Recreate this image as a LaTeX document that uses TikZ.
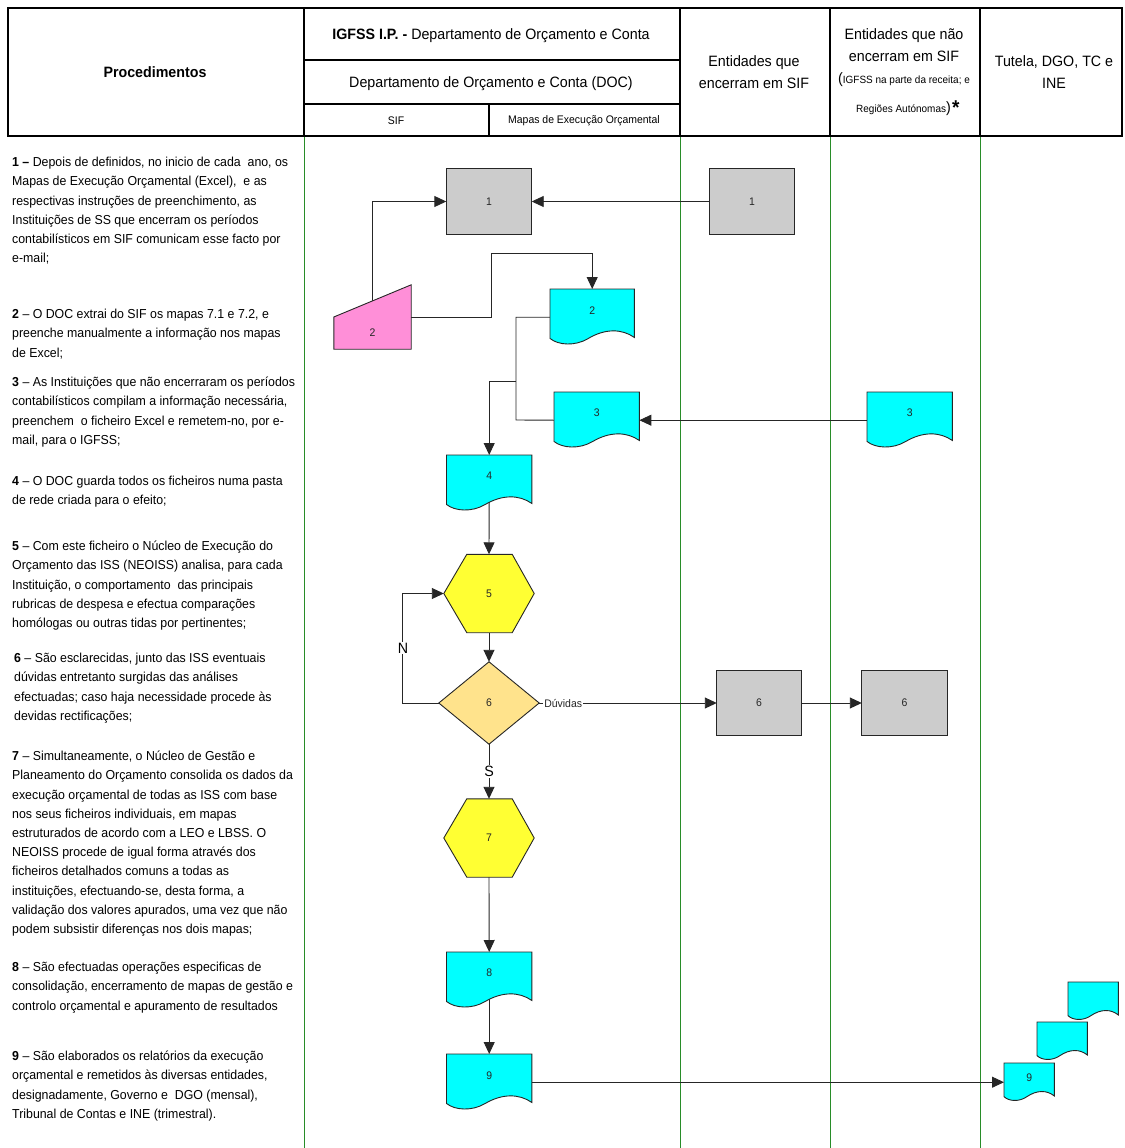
\documentclass[tikz,border=0pt]{standalone}
\usepackage{fontspec}
\newfontfamily\af{Liberation Sans}[FakeStretch=0.95]
\usetikzlibrary{arrows.meta,calc}
\definecolor{lanegreen}{RGB}{40,140,40}
\definecolor{boxgray}{RGB}{204,204,204}
\definecolor{doccyan}{RGB}{0,255,255}
\definecolor{manpink}{RGB}{255,143,216}
\definecolor{hexyellow}{RGB}{255,255,51}
\definecolor{decorange}{RGB}{255,227,140}
\pgfdeclarelayer{conn}
\pgfdeclarelayer{shapes}
\pgfsetlayers{conn,shapes,main}
\newcommand\fsHead{\fontsize{15}{22}\selectfont}
\newcommand\fsSmall{\fontsize{11}{13}\selectfont}
\newcommand\fsTiny{\fontsize{10.5}{12}\selectfont}
\newcommand\docshape[2]{%
  \filldraw[shp, fill=#2] let \p1=(#1.north west), \p2=(#1.south east),
    \n1={\x2-\x1}, \n2={\y1-\y2} in
  (\x1,\y1) -- (\x2,\y1) -- (\x2,{\y1-0.86*\n2})
  .. controls ({\x1+0.85*\n1},{\y1-0.70*\n2}) and ({\x1+0.65*\n1},{\y1-0.70*\n2}) .. ({\x1+0.45*\n1},{\y1-0.88*\n2})
  .. controls ({\x1+0.30*\n1},{\y1-1.015*\n2}) and ({\x1+0.10*\n1},{\y1-1.0*\n2}) .. (\x1,{\y1-0.877*\n2}) -- cycle;}
\newcommand\hexshape[2]{%
  \filldraw[shp, fill=#2] let \p1=(#1.north west), \p2=(#1.south east) in
  ({\x1+23pt},\y1) -- ({\x2-22pt},\y1) -- (\x2,{0.5*\y1+0.5*\y2}) -- ({\x2-22pt},\y2)
  -- ({\x1+23pt},\y2) -- (\x1,{0.5*\y1+0.5*\y2}) -- cycle;}
\tikzset{
  lane/.style={draw=lanegreen, line width=0.9pt},
  hline/.style={draw=black, line width=1.1pt},
  conn/.style={draw=black!85, line width=0.9pt},
  arr/.style={conn, -{Triangle[length=12pt,width=11pt]}},
  shp/.style={draw=black!85, line width=0.9pt},
  lbl/.style={font=\af\fsSmall, text=black!85},
  graybox/.style={rectangle, inner sep=0pt, lbl, minimum width=85pt, minimum height=65pt},
  docnode/.style={rectangle, inner sep=0pt, lbl, anchor=north west, minimum width=85pt, minimum height=56pt},
  hexnode/.style={rectangle, inner sep=0pt, lbl, minimum width=90pt, minimum height=78pt},
  lefttext/.style={font=\af\fontsize{13}{19.2}\selectfont, align=left, anchor=north west, inner sep=0pt},
  headtext/.style={font=\af\fsHead, align=center, inner sep=0pt},
  yn/.style={font=\af\fsHead, fill=white, inner sep=1pt},
}
\begin{document}
\begin{tikzpicture}[x=1pt,y=-1pt]
\useasboundingbox (0,0) rectangle (1124,1148);

% ---------- header text ----------
\node[headtext] (hproc) at (155,72) {\textbf{Procedimentos}};
\node[headtext] (higfss) at (491,35.5) {\textbf{IGFSS I.P. -} Departamento de Orçamento e Conta};
\node[headtext] (hdoc) at (491,83.5) {Departamento de Orçamento e Conta (DOC)};
\node[headtext, font=\af\fsSmall] (hsif) at (396,121) {SIF};
\node[headtext, font=\af\fsSmall] (hmapas) at (584,121) {Mapas de Execução Orçamental};
\node[headtext] (henc) at (754,72) {Entidades que\\encerram em SIF};
\node[headtext] (hnenc) at (904,45) {Entidades que não\\encerram em SIF};
\node[headtext, font=\af\fsTiny] (hnenc2) at (904,80) {{\fsHead(}IGFSS na parte da receita; e};
\node[headtext, font=\af\fsTiny, anchor=east] (hnenc3) at (951,109) {Regiões Autónomas{\fsHead)}};
\node[headtext, anchor=west, font=\af\fontsize{20}{20}\selectfont\bfseries, xshift=1pt] (hstar) at (hnenc3.east) {\raisebox{3pt}{*}};
\node[headtext] (htut) at (1054,72) {Tutela, DGO, TC e\\INE};

% ---------- left column text ----------
\node[lefttext] (p1) at (12,153.1) {\strut\textbf{1 –} Depois de definidos, no inicio de cada\ \ ano, os\\
Mapas de Execução Orçamental (Excel),\ \ e as\\
respectivas instruções de preenchimento, as\\
Instituições de SS que encerram os períodos\\
contabilísticos em SIF comunicam esse facto por\\
e-mail;};
\node[lefttext] (p2) at (12,305.1) {\strut\textbf{2} – O DOC extrai do SIF os mapas 7.1 e 7.2, e\\
preenche manualmente a informação nos mapas\\
de Excel;};
\node[lefttext] (p3) at (12,373.1) {\strut\textbf{3} – As Instituições que não encerraram os períodos\\
contabilísticos compilam a informação necessária,\\
preenchem\ \ o ficheiro Excel e remetem-no, por e-\\
mail, para o IGFSS;};
\node[lefttext] (p4) at (12,472.1) {\strut\textbf{4} – O DOC guarda todos os ficheiros numa pasta\\
de rede criada para o efeito;};
\node[lefttext] (p5) at (12,537.1) {\strut\textbf{5} – Com este ficheiro o Núcleo de Execução do\\
Orçamento das ISS (NEOISS) analisa, para cada\\
Instituição, o comportamento\ \ das principais\\
rubricas de despesa e efectua comparações\\
homólogas ou outras tidas por pertinentes;};
\node[lefttext] (p6) at (14,649.1) {\strut\textbf{6} – São esclarecidas, junto das ISS eventuais\\
dúvidas entretanto surgidas das análises\\
efectuadas; caso haja necessidade procede às\\
devidas rectificações;};
\node[lefttext] (p7) at (12,747.1) {\strut\textbf{7} – Simultaneamente, o Núcleo de Gestão e\\
Planeamento do Orçamento consolida os dados da\\
execução orçamental de todas as ISS com base\\
nos seus ficheiros individuais, em mapas\\
estruturados de acordo com a LEO e LBSS. O\\
NEOISS procede de igual forma através dos\\
ficheiros detalhados comuns a todas as\\
instituições, efectuando-se, desta forma, a\\
validação dos valores apurados, uma vez que não\\
podem subsistir diferenças nos dois mapas;};
\node[lefttext] (p8) at (12,958.1) {\strut\textbf{8} – São efectuadas operações especificas de\\
consolidação, encerramento de mapas de gestão e\\
controlo orçamental e apuramento de resultados};
\node[lefttext] (p9) at (12,1047.1) {\strut\textbf{9} – São elaborados os relatórios da execução\\
orçamental e remetidos às diversas entidades,\\
designadamente, Governo e\ \ DGO (mensal),\\
Tribunal de Contas e INE (trimestral).};

% ---------- flow nodes ----------
\node[graybox] (b1L) at (489,201.5) {1};
\node[graybox] (b1R) at (752,201.5) {1};
\node[rectangle, inner sep=0pt, minimum width=77pt, minimum height=64pt,
      label={[lbl, yshift=-16pt]center:2}] (m2) at (372.5,317) {};
\node[docnode, minimum width=84pt, label={[lbl, yshift=7pt]center:2}] (d2) at (550,289) {};
\node[docnode, label={[lbl, yshift=7pt]center:3}] (d3L) at (554,392) {};
\node[docnode, label={[lbl, yshift=7pt]center:3}] (d3R) at (867,392) {};
\node[docnode, label={[lbl, yshift=7pt]center:4}] (d4) at (446.5,455) {};
\node[hexnode] (h5) at (489,593.5) {5};
\node[rectangle, inner sep=0pt, lbl, minimum width=100pt, minimum height=82pt] (dm6) at (489,703) {6};
\node[rectangle, inner sep=0pt, lbl, minimum width=84pt, minimum height=64pt] (b6L) at (759,703) {6};
\node[rectangle, inner sep=0pt, lbl, minimum width=85pt, minimum height=64pt] (b6R) at (904.5,703) {6};
\node[hexnode] (h7) at (489,838) {7};
\node[docnode, label={[lbl, yshift=7pt]center:8}] (d8) at (446.5,952) {};
\node[docnode, label={[lbl, yshift=7pt]center:9}] (d9) at (446.5,1054) {};
\node[docnode, minimum width=50pt, minimum height=38pt] (s3) at (1068,982) {};
\node[docnode, minimum width=50pt, minimum height=38pt] (s2) at (1037,1022) {};
\node[docnode, minimum width=50pt, minimum height=38pt, label={[lbl, yshift=5pt]center:9}] (s1) at (1004,1063) {};
\node[yn] (nN) at (403,648) {N};

% ---------- shapes ----------
\begin{pgfonlayer}{shapes}
  \filldraw[shp, fill=boxgray] (b1L.north west) rectangle (b1L.south east);
  \filldraw[shp, fill=boxgray] (b1R.north west) rectangle (b1R.south east);
  \filldraw[shp, fill=boxgray] (b6L.north west) rectangle (b6L.south east);
  \filldraw[shp, fill=boxgray] (b6R.north west) rectangle (b6R.south east);
  \filldraw[shp, fill=manpink] (m2.west) -- (m2.north east) -- (m2.south east) -- (m2.south west) -- cycle;
  \docshape{d2}{doccyan}
  \docshape{d3L}{doccyan}
  \docshape{d3R}{doccyan}
  \docshape{d4}{doccyan}
  \docshape{d8}{doccyan}
  \docshape{d9}{doccyan}
  \docshape{s3}{doccyan}
  \docshape{s2}{doccyan}
  \docshape{s1}{doccyan}
  \hexshape{h5}{hexyellow}
  \hexshape{h7}{hexyellow}
  \filldraw[shp, fill=decorange] (dm6.north) -- (dm6.east) -- (dm6.south) -- (dm6.west) -- cycle;
\end{pgfonlayer}

% ---------- grid and connectors ----------
\begin{pgfonlayer}{conn}
  \foreach \lx in {304,680,830,980} { \draw[lane] (\lx,136) -- (\lx,1148); }
  \draw[hline] (8,8) rectangle (1122,136);
  \foreach \lx in {304,680,830,980} { \draw[hline] (\lx,8) -- (\lx,136); }
  \draw[hline] (304,60) -- (680,60);
  \draw[hline] (304,104) -- (680,104);
  \draw[hline] (489,104) -- (489,136);

  \coordinate (j1) at (491,253);
  \coordinate (j2) at (516,420);
  \coordinate (j3) at (516,381);
  \draw[arr] (b1R.west) -- (b1L.east);
  \draw[arr] (m2.center) |- (b1L.west);
  \draw[arr] (m2.east) -| (j1) -| (d2.north);
  \draw[conn] (d2.west) -| (j2) -- (d3L.west);
  \draw[arr] (j3) -| (d4.north);
  \draw[arr] (d3R.west) -- (d3L.east);
  \draw[arr] (d4.center) -- (h5.north);
  \draw[arr] (h5.south) -- (dm6.north);
  \draw[arr] (dm6.west) -- ++(-36,0) |- (h5.west);
  \draw[arr] (dm6.east) -- node[pos=0.135, fill=white, lbl, inner sep=1pt] (dv) {Dúvidas} (b6L.west);
  \draw[arr] (b6L.east) -- (b6R.west);
  \draw[arr] (dm6.south) -- node[yn, pos=0.5] (sS) {S} (h7.north);
  \draw[arr] (h7.south) -- (d8.north);
  \draw[arr] (d8.center) -- (d9.north);
  \draw[arr] (d9.east) -- (s1.west);
\end{pgfonlayer}
\end{tikzpicture}
\end{document}
